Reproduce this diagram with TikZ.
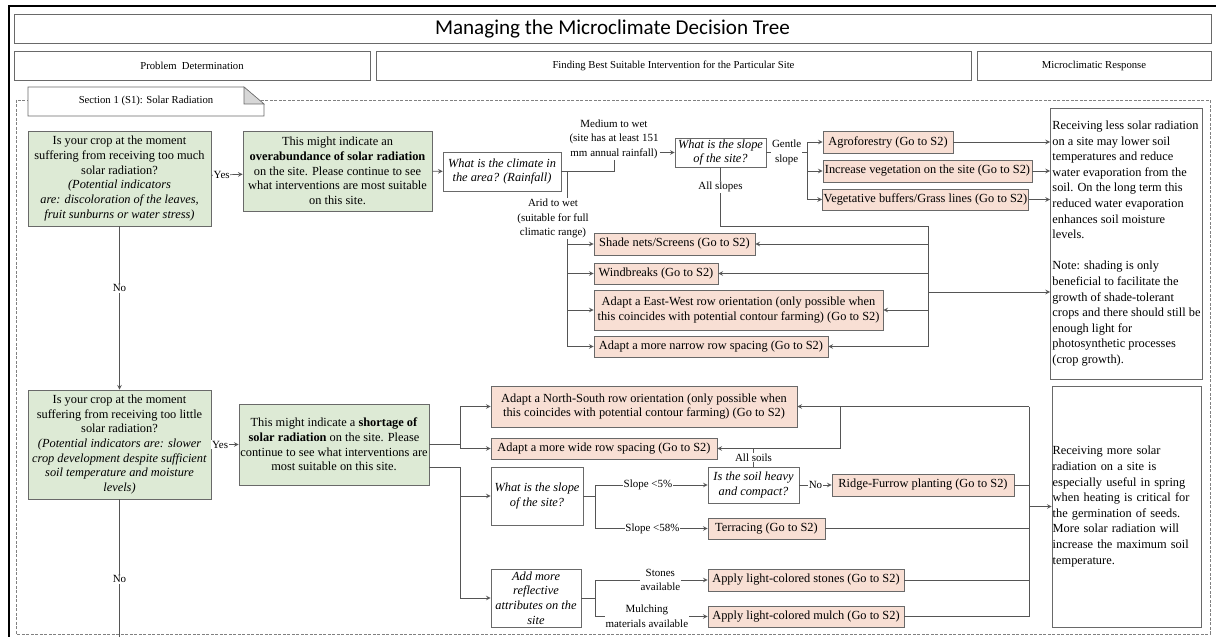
\documentclass[tikz,border=0pt]{standalone}
\usepackage{fontspec}
\setmainfont{Liberation Serif}
\newfontfamily\titlefont{Carlito}
\usetikzlibrary{arrows,positioning}

\definecolor{qgreen}{RGB}{221,234,213}
\definecolor{actpink}{RGB}{248,223,212}
\definecolor{edgegray}{RGB}{85,85,85}
\definecolor{boxgray}{RGB}{105,105,105}
\definecolor{foldgray}{RGB}{215,215,215}

\newcommand{\boxfont}{\fontsize{8.8}{10.4}\selectfont}
\newcommand{\respfont}{\fontsize{8.8}{11.1}\selectfont}
\newcommand{\headfont}{\fontsize{7.6}{9}\selectfont}
\newcommand{\condfont}{\fontsize{7.8}{10.4}\selectfont}

\begin{document}
\begin{tikzpicture}[
    x=0.025cm, y=-0.025cm,
    title/.style={rectangle, draw=boxgray, font=\titlefont\fontsize{15}{18}\selectfont},
    header/.style={rectangle, draw=boxgray, minimum height=0.725cm, font=\headfont},
    greenbox/.style={rectangle, draw=boxgray, fill=qgreen, align=center, inner sep=1pt, font=\boxfont},
    ask/.style={rectangle, draw=boxgray, fill=white, align=center, inner sep=1pt, font=\boxfont\itshape},
    action/.style={rectangle, draw=boxgray, fill=actpink, align=center, inner sep=1pt, font=\boxfont},
    response/.style={rectangle, draw=boxgray, align=left, inner sep=1.5pt, font=\respfont},
    cond/.style={fill=white, inner sep=0.6pt, align=center, font=\condfont},
    box size/.style 2 args={minimum width=#1cm, minimum height=#2cm},
    line/.style={draw=edgegray, line width=0.5pt},
    arrow/.style={line, ->, >=stealth}
]
\useasboundingbox (0,0) rectangle (1216,637);

% Frame
\draw[line width=1.3pt] (9,645) -- (9,6) -- (1225,6);

% Title and column headers
\node[title, box size={29.925}{0.725}] (title) at (612.5,28.5) {Managing the Microclimate Decision Tree};
\node[header, minimum width=8.9cm] (hdprob) at (192,65.5) {Problem~ Determination};
\node[header, minimum width=14.875cm] (hdfind) at (673.5,65.5) {Finding Best Suitable Intervention for the Particular Site};
\node[header, minimum width=5.85cm] (hdresp) at (1094,65.5) {Microclimatic Response};

% Section 1 frame and tab
\draw[gray, dash pattern=on 2pt off 1.2pt] (16,100) rectangle (1210,634);
\filldraw[draw=boxgray, fill=white] (28,116) -- (28,87) -- (244,87) -- (264,104) -- (264,116) -- cycle;
\filldraw[draw=boxgray, fill=foldgray] (244,87) -- (244,104) -- (264,104) -- cycle;
\node[font=\headfont] (sectab) at (146,101) {Section 1 (S1): Solar Radiation};

% Too much solar radiation
\node[greenbox, box size={4.575}{2.375}] (q1) at (119.5,178.5) {Is your crop at the moment\\suffering from receiving too much\\solar radiation?\\\textit{(Potential indicators}\\\textit{are: discoloration of the leaves,}\\\textit{fruit sunburns or water stress)}};
\node[greenbox, box size={4.725}{2.0}] (o1) at (337.5,171) {This might indicate an\\\textbf{overabundance of solar radiation}\\on the site. Please continue to see\\what interventions are most suitable\\on this site.};
\node[ask, box size={2.95}{0.975}] (c1) at (502,171.5) {What is the climate in\\the area? (Rainfall)};
\node[cond] (medlbl) at (614,139) {Medium to wet\\(site has at least 151\\mm annual rainfall)};
\node[ask, box size={2.275}{0.725}] (sl1) at (720.5,152.5) {What is the slope\\of the site?};

\node[action, box size={3.25}{0.55}] (agro) at (888,142) {Agroforestry (Go to S2)};
\node[action, box size={5.225}{0.55}] (vegi) at (927.5,171) {Increase vegetation on the site (Go to S2)};
\node[action, box size={5.125}{0.525}] (vegb) at (925.5,199.5) {Vegetative buffers/Grass lines (Go to S2)};

\node[action, box size={4.025}{0.55}] (shade) at (674.5,244) {Shade nets/Screens (Go to S2)};
\node[action, box size={3.1}{0.525}] (wind) at (656,273.5) {Windbreaks (Go to S2)};
\node[action, box size={7.225}{1.0}] (ew) at (738.5,310) {Adapt a East-West row orientation (only possible when\\this coincides with potential contour farming) (Go to S2)};
\node[action, box size={5.85}{0.525}] (narrow) at (711,346.5) {Adapt a more narrow row spacing (Go to S2)};

\node[response, box size={3.775}{6.775}] (r1) at (1126.5,243.5) {Receiving less solar radiation\\on a site may lower soil\\temperatures and reduce\\water evaporation from the\\soil. On the long term this\\reduced water evaporation\\enhances soil moisture\\levels.\\~\\Note: shading is only\\beneficial to facilitate the\\growth of shade-tolerant\\crops and there should still be\\enough light for\\photosynthetic processes\\(crop growth).};

% Too little solar radiation
\node[greenbox, box size={4.575}{2.725}] (q2) at (119.5,444.5) {Is your crop at the moment\\suffering from receiving too little\\solar radiation?\\\textit{(Potential indicators are: slower}\\\textit{crop development despite sufficient}\\\textit{soil temperature and moisture}\\\textit{levels)}};
\node[greenbox, box size={4.75}{2.025}] (o2) at (334,444.5) {This might indicate a \textbf{shortage of}\\\textbf{solar radiation} on the site. Please\\continue to see what interventions are\\most suitable on this site.};

\node[action, box size={7.65}{1.025}] (ns) at (644,406.5) {Adapt a North-South row orientation (only possible when\\this coincides with potential contour farming) (Go to S2)};
\node[action, box size={5.65}{0.525}] (wide) at (604,448.5) {Adapt a more wide row spacing (Go to S2)};
\node[ask, box size={2.3}{1.45}] (sl2) at (537,496) {What is the slope\\of the site?};
\node[ask, box size={2.25}{1.45}] (refl) at (536,598) {Add more\\reflective\\attributes on the\\site};
\node[ask, box size={2.275}{0.9}] (soil) at (753.5,485) {Is the soil heavy\\and compact?};
\node[action, box size={4.55}{0.55}] (ridge) at (923,485) {Ridge-Furrow planting (Go to S2)};
\node[action, box size={2.925}{0.525}] (terr) at (766.5,528.5) {Terracing (Go to S2)};
\node[action, box size={4.9}{0.55}] (stones) at (806,580) {Apply light-colored stones (Go to S2)};
\node[action, box size={4.9}{0.525}] (mulch) at (806,616.5) {Apply light-colored mulch (Go to S2)};

\node[response, text width=3.69cm, inner xsep=0.5pt, box size={3.725}{6.025}] (r2) at (1126.5,506.5) {Receiving more solar\\radiation on a site is\\especially useful in spring\\when heating is critical for\\the germination of seeds.\\More solar radiation will\\increase the maximum soil\\temperature.};

% Junction points
\coordinate (aridtop) at (567,171);
\coordinate (gent) at (807,152.5);
\coordinate (allsl) at (928,226);
\coordinate (ewout) at (928,292);
\coordinate (q2end) at (119.5,645);
\coordinate (nsfork) at (460,444.5);
\coordinate (slfork) at (460,467);
\coordinate (slope2fork) at (595,496);
\coordinate (reflfork) at (595,598);
\coordinate (nsjoin) at (840,406.5);
\coordinate (busT) at (1029,406.5);
\coordinate (busB) at (1029,616.5);
\coordinate (r2in) at (1029,506.5);

% Section 1, first question
\draw[arrow] (q1) -- node[cond, pos=0.33] {Yes} (o1);
\draw[arrow] (q1) -- node[cond, pos=0.38] {No} (q2);
\draw[arrow] (o1) -- (c1);
\draw[line] (c1.east) -| (medlbl.south);
\draw[arrow] (medlbl.east |- sl1) -- (sl1);
\draw[line] (aridtop) -- node[cond, pos=0.27, xshift=-0.35cm] {Arid to wet\\(suitable for full\\climatic range)} (aridtop |- narrow);
\draw[arrow] (aridtop |- shade) -- (shade);
\draw[arrow] (aridtop |- wind) -- (wind);
\draw[arrow] (aridtop |- ew) -- (ew);
\draw[arrow] (aridtop |- narrow) -- (narrow);

\draw[line] (sl1) -- node[cond] {Gentle\\slope} (gent);
\draw[line] (gent |- agro) -- (gent |- vegb);
\draw[arrow] (gent |- agro) -- (agro);
\draw[arrow] (gent |- vegi) -- (vegi);
\draw[arrow] (gent |- vegb) -- (vegb);
\draw[arrow] (agro) -- (agro -| r1.west);
\draw[arrow] (vegi) -- (vegi -| r1.west);
\draw[arrow] (vegb) -- (vegb -| r1.west);

\draw[line] (sl1) -- node[cond, pos=0.34] {All slopes} (sl1 |- allsl) -- (allsl) -- (allsl |- narrow);
\draw[arrow] (allsl |- shade) -- (shade);
\draw[arrow] (allsl |- wind) -- (wind);
\draw[arrow] (allsl |- ew) -- (ew);
\draw[arrow] (allsl |- narrow) -- (narrow);
\draw[arrow] (ewout) -- (ewout -| r1.west);

% Section 1, second question
\draw[arrow] (q2) -- node[cond, pos=0.32] {Yes} (o2);
\draw[line] (q2) -- node[cond, pos=0.55] {No} (q2end);
\draw[line] (o2) -- (nsfork);
\draw[line] (nsfork |- ns) -- (nsfork |- wide);
\draw[arrow] (nsfork |- ns) -- (ns);
\draw[arrow] (nsfork |- wide) -- (wide);
\draw[line] (o2.east |- slfork) -- (slfork) -- (slfork |- refl);
\draw[arrow] (slfork |- sl2) -- (sl2);
\draw[arrow] (slfork |- refl) -- (refl);

\draw[line] (sl2) -- (slope2fork);
\draw[line] (slope2fork |- soil) -- (slope2fork |- terr);
\draw[arrow] (slope2fork |- soil) -- node[cond, pos=0.47] {Slope <5\%} (soil);
\draw[arrow] (slope2fork |- terr) -- node[cond, pos=0.51] {Slope <58\%} (terr);
\draw[arrow] (soil) -- node[cond] {No} (ridge);
\draw[line] (soil) -- node[cond] {All soils} (soil |- wide);

\draw[line] (refl) -- (reflfork);
\draw[line] (reflfork |- stones) -- (reflfork |- mulch);
\draw[arrow] (reflfork |- stones) -- node[cond, pos=0.58] {Stones\\available} (stones);
\draw[arrow] (reflfork |- mulch) -- node[cond, pos=0.46] {Mulching\\materials available} (mulch);

\draw[arrow] (busT) -- (ns);
\draw[arrow] (nsjoin) |- (wide);
\draw[line] (busT) -- (busB);
\draw[line] (ridge) -- (ridge -| busT);
\draw[line] (terr) -- (terr -| busT);
\draw[line] (stones) -- (stones -| busT);
\draw[line] (mulch) -- (mulch -| busT);
\draw[arrow] (r2in) -- (r2);

\end{tikzpicture}
\end{document}
